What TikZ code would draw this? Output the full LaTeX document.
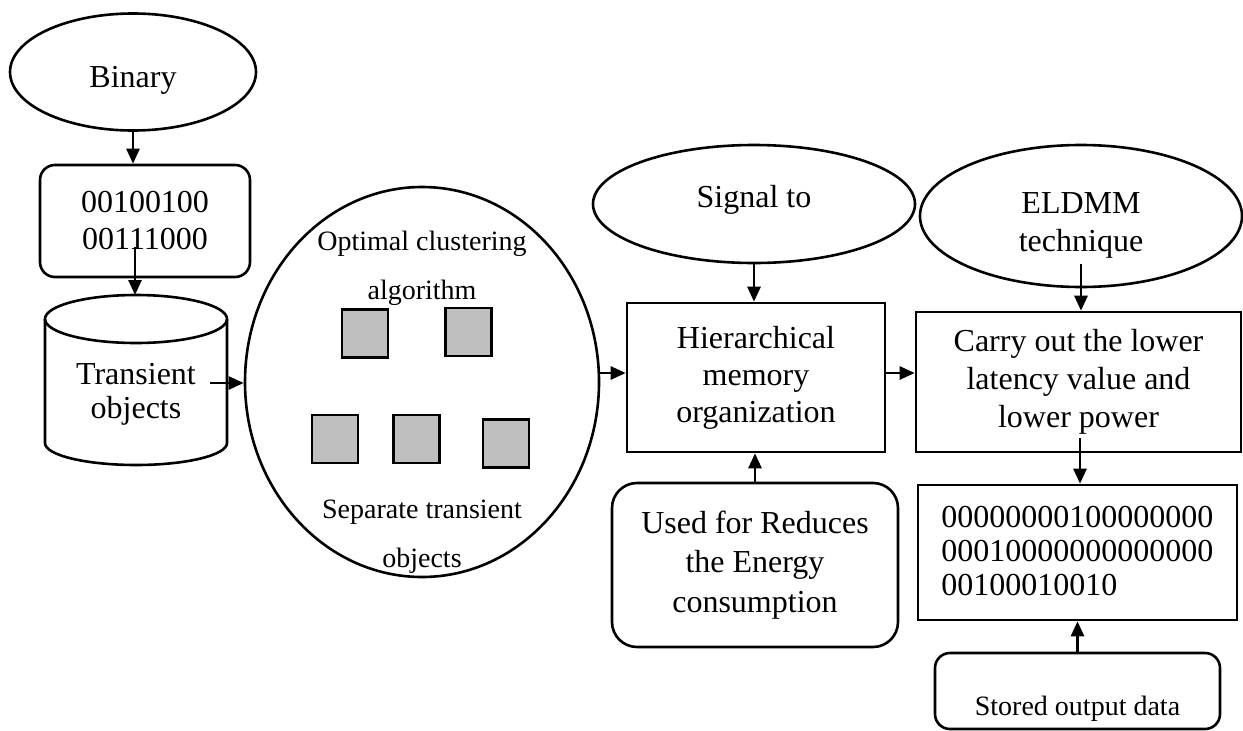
\documentclass[tikz,border=0pt]{standalone}
\usepackage{fontspec}
\setmainfont{Liberation Serif}
\usetikzlibrary{shapes.geometric,arrows.meta,calc}
\begin{document}
\begin{tikzpicture}[x=1pt,y=-1pt,
  line width=2.6pt,
  every node/.style={font=\fontsize{32}{38}\selectfont, align=center, inner sep=0pt},
  ell/.style={draw, ellipse},
  rbox/.style={draw, rectangle, rounded corners=#1},
  sbox/.style={draw, rectangle},
  sq/.style={draw, rectangle, fill=black!25, line width=2.2pt, minimum width=46pt, minimum height=48pt},
  small/.style={font=\fontsize{28}{49}\selectfont},
  arr/.style={-{Triangle[length=15pt,width=13pt]}, line width=2.6pt}
]
\useasboundingbox (0,0) rectangle (1243,731);

% left column
\node[ell, minimum width=246pt, minimum height=117pt] (bin) at (133,72) {};
\node (bint) at (133,80) {Binary};
\node[rbox=15pt, minimum width=210pt, minimum height=112pt, font=\fontsize{32}{37}\selectfont] (code) at (145,221) {00100100\\00111000};

% cylinder
\draw (136,319) ellipse [x radius=91pt, y radius=24pt];
\draw (45,319) -- (45,443) arc[start angle=180, end angle=360, x radius=91pt, y radius=22pt] -- (227,319);
\coordinate (cyltop) at (135,295);
\node[font=\fontsize{32}{34}\selectfont] (cyl) at (136,394) {Transient\\objects};
\coordinate (c1) at (210,383);
\coordinate (c2) at (135,247);

% big ellipse
\node[ell, minimum width=354pt, minimum height=390pt] (big) at (422,382) {};
\node[small] (opt) at (422,268) {Optimal clustering\\algorithm};
\node[small] (sep) at (422,537) {Separate transient\\objects};
\node[sq] (q1) at (365,333.5) {};
\node[sq] (q2) at (468.5,332) {};
\node[sq] (q3) at (335,439) {};
\node[sq] (q4) at (416.5,439) {};
\node[sq] (q5) at (506,443.5) {};

% middle column
\node[ell, minimum width=322pt, minimum height=118pt] (sig) at (754,204) {};
\node (sigt) at (754,200) {Signal to};
\node[sbox, minimum width=258pt, minimum height=149pt, font=\fontsize{32}{37}\selectfont] (hier) at (756,377.5) {Hierarchical\\memory\\organization};
\node[rbox=25pt, minimum width=286pt, minimum height=164pt, font=\fontsize{32}{39.5}\selectfont] (used) at (755,565) {Used for Reduces\\the Energy\\consumption};

% right column
\node[ell, minimum width=322pt, minimum height=142pt] (eld) at (1081,216) {};
\node (eldt) at (1081,225) {ELDMM\\technique};
\node[sbox, minimum width=325pt, minimum height=140pt, font=\fontsize{32}{38}\selectfont] (carry) at (1078.5,382) {Carry out the lower\\latency value and\\lower power};
\node[sbox, minimum width=319pt, minimum height=135pt] (bits) at (1077.5,552.5) {};
\node[anchor=west, align=left, font=\fontsize{32}{34}\selectfont] (bitst) at (940,551) {00000000100000000\\00010000000000000\\00100010010};
\node[rbox=15pt, minimum width=285pt, minimum height=76pt] (stored) at (1077.5,691) {};
\node[small] (storedt) at (1077.5,709) {Stored output data};

% connectors
\coordinate (c3) at ($(eld.south)+(0,-24)$);
\coordinate (c4) at ($(carry.south)+(1.5,-15)$);
\draw[arr] (bin.south) -- (bin.south |- code.north);
\draw[arr] (c2) -- (cyltop);
\draw[arr] (c1) -- (big.west |- c1);
\draw[arr] (big.east |- 0,373) -- (hier.west |- 0,373);
\draw[arr] (hier.east |- 0,373) -- (carry.west |- 0,373);
\draw[arr] (sig.south) -- (sig.south |- hier.north);
\draw[arr] (used.north) -- (used.north |- hier.south);
\draw[arr] (c3) -- (c3 |- carry.north);
\draw[arr] (c4) -- (c4 |- bits.north);
\draw[arr] (stored.north) -- (stored.north |- bits.south);
\end{tikzpicture}
\end{document}
